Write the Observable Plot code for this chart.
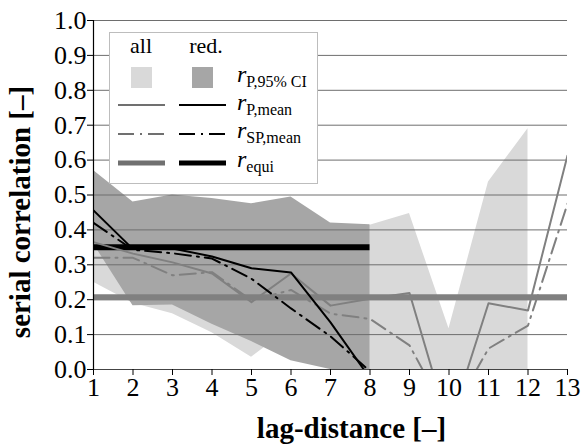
<!DOCTYPE html>
<html><head><meta charset="utf-8">
<script src="https://cdn.jsdelivr.net/npm/d3@7"></script>
<script src="https://cdn.jsdelivr.net/npm/@observablehq/plot@0.6"></script>
<style>body{margin:0;background:#fff}</style>
</head><body><div id="chart"></div>
<script>
// lag distances
const lags = [1,2,3,4,5,6,7,8,9,10,11,12,13];
const yTicks = [0.0,0.1,0.2,0.3,0.4,0.5,0.6,0.7,0.8,0.9,1.0];
// 95% CI of Pearson r, all data (lags 1..12)
const ciAllLo = [0.25,0.19,0.16,0.105,0.035,0.12,0.0,0.0,0.0,0.0,0.0,0.0];
const ciAllHi = [0.55,0.46,0.48,0.47,0.46,0.48,0.40,0.413,0.447,0.117,0.537,0.69];
// 95% CI of Pearson r, reduced data (lags 1..8)
const ciRedLo = [0.36,0.183,0.185,0.13,0.08,0.025,0.0,0.0];
const ciRedHi = [0.57,0.48,0.50,0.49,0.475,0.494,0.42,0.415];
// mean correlations
const rpAll  = [0.365,0.332,0.307,0.275,0.193,0.275,0.183,0.203,0.219,-0.165,0.19,0.169,0.613];
const rspAll = [0.32,0.32,0.27,0.279,0.198,0.228,0.16,0.145,0.069,-0.14,0.06,0.126,0.475];
const rpRed  = [0.456,0.345,0.347,0.324,0.29,0.278,0.135,-0.025];
const rspRed = [0.42,0.343,0.333,0.318,0.26,0.175,0.095,-0.005];
const equiAll = 0.207, equiRed = 0.35;

const lagsAll = lags.slice(0, ciAllLo.length);
const lagsRed = lags.slice(0, ciRedLo.length);
const bandAll = lagsAll.map((x,i)=>({x, lo: ciAllLo[i], hi: ciAllHi[i]}));
const bandRed = lagsRed.map((x,i)=>({x, lo: ciRedLo[i], hi: ciRedHi[i]}));

const GREY = "#808080", LIGHT = "#d9d9d9", DARK = "#a6a6a6";
const DASHDOT = "16,6,2,6";
const FONT = "Liberation Serif";

const plot = Plot.plot({
  width: 583, height: 445,
  marginLeft: 93, marginRight: 16, marginTop: 20, marginBottom: 76,
  style: {fontSize: "26px", fontFamily: FONT, color: "#000", background: "#fff", overflow: "visible"},
  x: {domain: [lags[0], lags[lags.length-1]]},
  y: {domain: [0, 1]},
  marks: [
    Plot.areaY(bandAll, {x: "x", y1: "lo", y2: "hi", fill: LIGHT}),
    Plot.areaY(bandRed, {x: "x", y1: "lo", y2: "hi", fill: DARK}),
    Plot.gridY(yTicks.filter(d => d > 0), {stroke: "#6e6e6e", strokeOpacity: 1, strokeWidth: 1}),
    Plot.ruleY([equiAll], {x1: lags[0], x2: lags[lags.length-1], stroke: GREY, strokeWidth: 6}),
    Plot.ruleY([equiRed], {x1: lagsRed[0], x2: lagsRed[lagsRed.length-1], stroke: "#000", strokeWidth: 6}),
    Plot.lineY(rspAll, {x: lags, stroke: GREY, strokeWidth: 2, strokeDasharray: DASHDOT, clip: true}),
    Plot.lineY(rpAll, {x: lags, stroke: GREY, strokeWidth: 2, clip: true}),
    Plot.lineY(rspRed, {x: lagsRed, stroke: "#000", strokeWidth: 2, strokeDasharray: DASHDOT, clip: true}),
    Plot.lineY(rpRed, {x: lagsRed, stroke: "#000", strokeWidth: 2, clip: true}),
    Plot.ruleY([0], {stroke: "#444", strokeWidth: 1.2}),
    Plot.ruleX([lags[0]], {y1: 0, y2: 1, stroke: "#000", strokeWidth: 1.2}),
    Plot.axisY(yTicks, {tickFormat: d3.format(".1f"), tickSize: 6, tickPadding: 1, label: null, stroke: "#000", fontFamily: FONT, fontSize: 26}),
    Plot.axisX(lags, {tickSize: 6, tickPadding: 2, label: null, stroke: "#000", fontFamily: FONT, fontSize: 26})
  ]
});
document.getElementById("chart").appendChild(plot);

const svg = d3.select(plot);
svg.attr("font-family", FONT);
// axis titles
svg.append("text").attr("transform", "translate(30,212) rotate(-90)")
  .attr("text-anchor", "middle").attr("font-size", 29)
  .attr("font-weight", "bold").attr("fill", "#000").text("serial correlation [–]");
svg.append("text").attr("x", 351.5).attr("y", 438)
  .attr("text-anchor", "middle").attr("font-size", 29)
  .attr("font-weight", "bold").attr("fill", "#000").text("lag-distance [–]");

// legend
const lg = svg.append("g").attr("fill", "#000");
lg.append("rect").attr("x", 109.5).attr("y", 32.5).attr("width", 208).attr("height", 151)
  .attr("fill", "#fff").attr("stroke", "#bdbdbd").attr("stroke-width", 1);
lg.append("text").attr("x", 141).attr("y", 53).attr("text-anchor", "middle").attr("font-size", 22).text("all");
lg.append("text").attr("x", 206).attr("y", 53).attr("text-anchor", "middle").attr("font-size", 22).text("red.");
lg.append("rect").attr("x", 131).attr("y", 67).attr("width", 21).attr("height", 21).attr("fill", LIGHT);
lg.append("rect").attr("x", 192).attr("y", 67).attr("width", 21).attr("height", 21).attr("fill", DARK);
const rows = [
  {y: 105, w: 2, dash: null},
  {y: 134, w: 2, dash: DASHDOT},
  {y: 163, w: 5, dash: null}
];
rows.forEach(r => {
  [[118,165,"#707070"],[179,226,"#000"]].forEach(([a,b,c]) => {
    const l = lg.append("line").attr("x1", a).attr("x2", b).attr("y1", r.y).attr("y2", r.y)
      .attr("stroke", c).attr("stroke-width", r.w);
    if (r.dash) l.attr("stroke-dasharray", r.dash);
  });
});
const labels = [
  {y: 82, sub: "P,95% CI"},
  {y: 110, sub: "P,mean"},
  {y: 138, sub: "SP,mean"},
  {y: 167, sub: "equi"}
];
labels.forEach(d => {
  const t = lg.append("text").attr("x", 237).attr("y", d.y).attr("font-size", 24).attr("text-anchor", "start");
  t.append("tspan").attr("font-style", "italic").text("r");
  t.append("tspan").attr("font-size", 16).attr("dy", 5).text(d.sub);
});
svg.selectAll("text, tspan").style("font-family", "'" + FONT + "'");
</script>
</body></html>
